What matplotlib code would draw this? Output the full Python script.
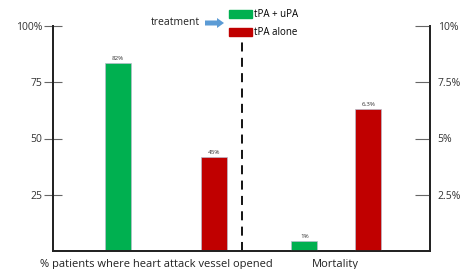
import matplotlib.pyplot as plt
from matplotlib.patches import FancyArrow, Rectangle
from matplotlib.transforms import blended_transform_factory

# data
groups = ["% patients where heart attack vessel opened", "Mortality"]
series = ["tPA + uPA", "tPA alone"]
opened_vals = [83.5, 41.7]          # left axis, %
opened_labels = ["82%", "45%"]
mortality_vals = [0.45, 6.3]        # right axis, %
mortality_labels = ["1%", "6.3%"]
left_ticks = [25, 50, 75, 100]
left_ticklabels = ["25", "50", "75", "100%"]
right_ticks = [2.5, 5, 7.5, 10]
right_ticklabels = ["2.5%", "5%", "7.5%", "10%"]

colors = ["#00b050", "#c00000"]
plt.rcParams["font.family"] = ["Open Sans", "DejaVu Sans"]

W, H = 464, 269
fig = plt.figure(figsize=(W / 100, H / 100), dpi=100)
ax = fig.add_axes([53 / W, 1 - 251 / H, (430 - 53) / W, (251 - 26) / H])
ax2 = ax.twinx()

ax.set_xlim(0, 10)
ax.set_ylim(0, 100)
ax2.set_ylim(0, 10)

pos_opened = [1.72, 4.28]
pos_mort = [6.67, 8.36]
bw = 0.69

b1 = ax.bar(pos_opened, opened_vals, width=bw, color=colors,
            edgecolor="#b8bccc", linewidth=0.5)
b2 = ax2.bar(pos_mort, mortality_vals, width=bw, color=colors,
             edgecolor="#b8bccc", linewidth=0.5)

for bar, lab in zip(b1, opened_labels):
    ax.text(bar.get_x() + bar.get_width() / 2, bar.get_height() + 1.0, lab,
            ha="center", va="bottom", fontsize=4.5, color="#333333")
for bar, lab in zip(b2, mortality_labels):
    ax2.text(bar.get_x() + bar.get_width() / 2, bar.get_height() + 0.1, lab,
             ha="center", va="bottom", fontsize=4.5, color="#333333")

# dashed separator
ax.plot([5.02, 5.02], [0, 93], color="black", lw=1.3, ls=(0, (5, 3.5)))

# spines and ticks
for a in (ax, ax2):
    a.spines["top"].set_visible(False)
    for s in ("left", "right", "bottom"):
        a.spines[s].set_color("#222222")
        a.spines[s].set_linewidth(1.3)
ax.set_xticks([])
ax.set_yticks(left_ticks)
ax.set_yticklabels(left_ticklabels)
ax2.set_yticks(right_ticks)
ax2.set_yticklabels(right_ticklabels)
ax.tick_params(axis="y", direction="inout", length=13, width=0.8,
               color="#666666", labelsize=7.5, pad=1, labelcolor="#333333")
ax2.tick_params(axis="y", direction="in", length=11, width=0.8,
                color="#666666", labelsize=7.5, pad=5.5, labelcolor="#333333")

# category labels
tr = blended_transform_factory(ax.transData, fig.transFigure)
ax.text(2.75, 1 - 264 / H, groups[0], transform=tr, ha="center", va="center",
        fontsize=8, color="#222222")
ax.text(7.5, 1 - 264 / H, groups[1], transform=tr, ha="center", va="center",
        fontsize=8, color="#222222")

# legend
handles = [Rectangle((0, 0), 1, 1, color=c) for c in colors]
fig.legend(handles, series, loc="upper left",
           bbox_to_anchor=(229 / W, 1 - 9 / H), frameon=False, fontsize=7,
           handlelength=2.4, handleheight=0.9, handletextpad=0.2,
           labelspacing=0.75, borderpad=0, borderaxespad=0)

fig.text(200 / W, 1 - 23 / H, "treatment", ha="right", va="center",
         fontsize=7.5, color="#222222")
fig.patches.append(FancyArrow(
    205 / W, 1 - 23 / H, 12 / W, 0, width=5 / H, head_width=10 / H,
    head_length=7 / W, length_includes_head=False, transform=fig.transFigure,
    color="#5b9bd5", lw=0))

fig.savefig("out.png", dpi=100)
